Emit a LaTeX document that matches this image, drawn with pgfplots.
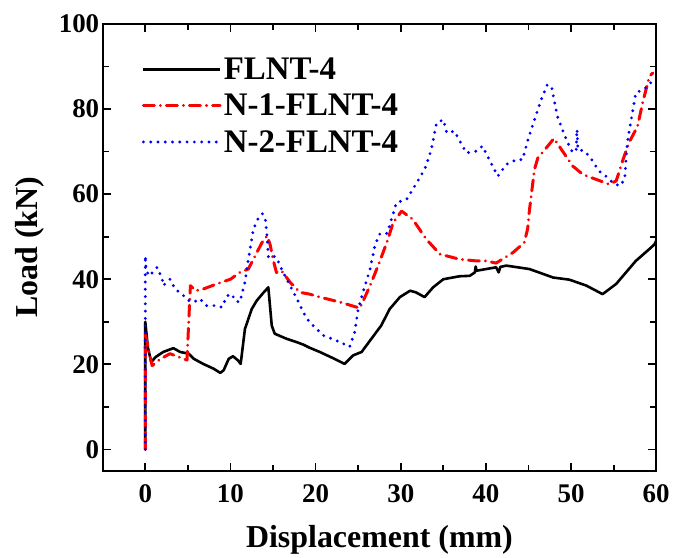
\documentclass[border=0pt]{standalone}
\usepackage{pgfplots}
\pgfplotsset{compat=1.18}
\usepackage{pgfplotstable}
\usepackage{fontspec}
\setmainfont{Liberation Serif}

\pgfplotstableread{
x y
0 0
0 30
0.3 24
0.7 20.5
1.2 21.7
2.1 22.9
3.3 23.8
4.1 22.9
5.1 22.5
5.7 21.3
6.8 20.1
8.0 19.0
8.8 18.0
9.2 18.6
9.8 21.3
10.3 21.9
10.9 20.9
11.2 20.1
11.7 28.3
12.5 33.0
13.1 35.0
13.9 36.9
14.45 38.1
14.85 29.1
15.2 27.2
16.6 26.0
17.8 25.2
18.6 24.6
19.3 23.9
20.5 22.9
22.0 21.5
23.4 20.1
24.4 22.1
25.4 22.9
26.4 25.6
27.7 29.1
28.7 33.0
29.9 35.8
31.1 37.3
31.8 36.9
32.8 35.8
33.8 38.1
35.0 40.0
36.9 40.7
38.1 40.8
38.7 41.6
38.8 43.0
38.9 42.0
41.2 42.8
41.5 41.6
41.7 42.9
42.4 43.2
45.1 42.4
47.9 40.4
49.8 39.9
51.8 38.5
53.7 36.5
55.3 38.9
57.6 44.3
59.2 47.1
59.8 48.2
60 49
}\blackdata

\pgfplotstableread{
x y
0 0
0 27
0.8 19.7
1.8 21.3
2.9 22.5
4.5 21.3
4.9 21.0
5.1 30
5.3 38.5
5.9 37.3
6.8 37.7
8.4 38.9
10.0 40.0
11.1 41.6
12.1 42.4
12.9 45.5
13.7 48.6
14.3 50.2
14.65 48.2
15.0 44.7
15.4 41.6
16.0 42.0
17.0 39.3
18.2 36.9
19.3 36.5
20.5 35.8
22.9 34.6
25.2 33.2
26.4 38.5
27.5 44.0
28.5 49.4
29.1 53.3
30.1 56.0
31.4 54.1
33.0 49.4
34.6 45.9
36.9 44.7
38.9 44.3
40.0 44.3
41.2 43.8
43.2 46.3
44.5 48.6
44.9 51.8
45.1 56
45.7 65.8
46.1 68.5
47.1 70.9
48.0 73.1
49.0 70.1
50.2 66.6
51.4 64.6
52.9 63.5
54.5 62.3
55.3 63.1
56.1 68.1
56.8 72.1
57.8 75.9
58.4 81.4
59.2 87.7
59.6 88.5
}\reddata

\pgfplotstableread{
x y
0 0
0 45.5
0.1 42.4
0.4 40.8
0.8 41.5
1.4 42.8
2.0 40.0
2.1 38.5
2.9 40.0
3.5 37.7
4.3 36.5
5.1 35.0
5.7 34.6
6.4 35.4
7.2 33.8
8.4 33.8
9.0 33.4
9.6 36.1
10.2 36.5
10.5 35.0
11.1 34.6
11.7 39.3
12.1 44.7
12.7 51.8
13.3 54.5
13.75 55.4
14.1 54.1
14.3 50.2
14.45 45.1
15.0 45.5
15.4 45.1
16.0 42.4
17.0 38.5
17.8 35.4
18.75 31.5
19.3 29.9
20.9 26.8
22.9 25.2
24.0 24.1
24.6 27.6
25.0 33.0
25.8 38.5
26.4 42.4
26.95 47.8
27.5 50.6
28.3 50.6
28.5 51.4
29.5 58.0
30.7 58.8
31.4 61.1
32.0 63.1
32.8 65.8
33.2 68.1
33.6 70.5
34.2 76.7
35.0 77.5
35.4 74.4
36.3 74.8
37.7 69.7
38.9 70.1
39.6 71.3
40.4 68.1
41.4 64.2
42.4 67.0
43.6 68.1
44.3 68.1
44.9 72.5
45.7 77.5
46.5 82.2
47.2 85.7
47.7 85.3
48.0 82.2
48.4 78.3
49.2 74.0
49.8 71.3
50.2 69.7
50.6 70.5
50.7 75.2
50.8 70.5
51.6 70.1
52.3 68.5
53.3 65.4
54.1 64.2
54.9 62.7
55.7 61.9
56.3 63.5
56.6 72.1
57.2 79.1
57.6 83.8
58.4 84.5
59.0 85.3
59.8 87.3
}\bluedata

\begin{document}
\begin{tikzpicture}
\begin{axis}[
  scale only axis,
  width=555pt, height=448pt,
  xmin=-5, xmax=60, ymin=-5, ymax=100,
  xtick={0,10,...,60}, ytick={0,20,...,100},
  minor x tick num=1, minor y tick num=1,
  tick align=inside,
  major tick length=8pt, minor tick length=6pt,
  axis line style={line width=2pt},
  every tick/.style={line width=1.8pt, black},
  /pgf/number format/assume math mode=true,
  ticklabel style={font=\fontsize{27}{31}\selectfont\bfseries},
  xticklabel style={yshift=-10pt},
  label style={font=\fontsize{32}{38}\selectfont\bfseries},
  xlabel={Displacement (mm)},
  ylabel={Load (kN)},
  xlabel style={yshift=-16pt},
  ylabel style={yshift=8pt},
  legend style={draw=none, fill=none, at={(0,1)}, anchor=north west,
    xshift=36pt, yshift=-30pt,
    font=\fontsize{33}{38}\selectfont\bfseries, row sep=9pt,
    legend cell align=left},
  legend image code/.code={\draw[#1] (0pt,0pt) -- (77pt,0pt);},
]
\addplot[black, line width=2.6pt, line join=round] table[x=x,y=y] {\blackdata};
\addlegendentry{FLNT-4}
\addplot[red, line width=3pt, line cap=round, line join=round,
  dash pattern=on 11pt off 6pt on 0.1pt off 6pt] table[x=x,y=y] {\reddata};
\addlegendentry{N-1-FLNT-4}
\addplot[blue, line width=3.2pt, line cap=round,
  dash pattern=on 0pt off 7.3pt] table[x=x,y=y] {\bluedata};
\addlegendentry{N-2-FLNT-4}
\end{axis}
\path (current axis.south west) ++(-103pt,-78pt) rectangle ++(673pt,550pt);
\end{tikzpicture}
\end{document}
